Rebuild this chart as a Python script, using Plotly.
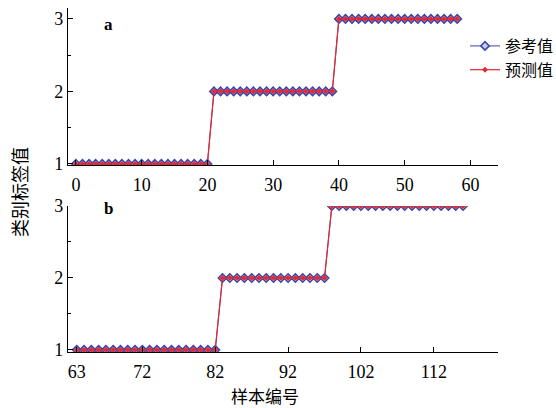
import plotly.graph_objects as go

# Panel a data (sample index and class labels)
a_x = [0, 1, 2, 3, 4, 5, 6, 7, 8, 9, 10, 11, 12, 13, 14, 15, 16, 17, 18, 19, 20,
       21, 22, 23, 24, 25, 26, 27, 28, 29, 30, 31, 32, 33, 34, 35, 36, 37, 38, 39,
       40, 41, 42, 43, 44, 45, 46, 47, 48, 49, 50, 51, 52, 53, 54, 55, 56, 57, 58]
a_ref = [1, 1, 1, 1, 1, 1, 1, 1, 1, 1, 1, 1, 1, 1, 1, 1, 1, 1, 1, 1, 1,
         2, 2, 2, 2, 2, 2, 2, 2, 2, 2, 2, 2, 2, 2, 2, 2, 2, 2, 2,
         3, 3, 3, 3, 3, 3, 3, 3, 3, 3, 3, 3, 3, 3, 3, 3, 3, 3, 3]
a_pred = [1, 1, 1, 1, 1, 1, 1, 1, 1, 1, 1, 1, 1, 1, 1, 1, 1, 1, 1, 1, 1,
          2, 2, 2, 2, 2, 2, 2, 2, 2, 2, 2, 2, 2, 2, 2, 2, 2, 2, 2,
          3, 3, 3, 3, 3, 3, 3, 3, 3, 3, 3, 3, 3, 3, 3, 3, 3, 3, 3]

# Panel b data
b_x = [63, 64, 65, 66, 67, 68, 69, 70, 71, 72, 73, 74, 75, 76, 77, 78, 79, 80, 81, 82,
       83, 84, 85, 86, 87, 88, 89, 90, 91, 92, 93, 94, 95, 96, 97,
       98, 99, 100, 101, 102, 103, 104, 105, 106, 107, 108, 109, 110, 111, 112, 113, 114, 115, 116]
b_ref = [1, 1, 1, 1, 1, 1, 1, 1, 1, 1, 1, 1, 1, 1, 1, 1, 1, 1, 1, 1,
         2, 2, 2, 2, 2, 2, 2, 2, 2, 2, 2, 2, 2, 2, 2,
         3, 3, 3, 3, 3, 3, 3, 3, 3, 3, 3, 3, 3, 3, 3, 3, 3, 3, 3]
b_pred = [1, 1, 1, 1, 1, 1, 1, 1, 1, 1, 1, 1, 1, 1, 1, 1, 1, 1, 1, 1,
          2, 2, 2, 2, 2, 2, 2, 2, 2, 2, 2, 2, 2, 2, 2,
          3, 3, 3, 3, 3, 3, 3, 3, 3, 3, 3, 3, 3, 3, 3, 3, 3, 3, 3]

a_ticks = [0, 10, 20, 30, 40, 50, 60]
b_ticks = [63, 72, 82, 92, 102, 112]
y_ticks = [1, 2, 3]

series_names = ["参考值", "预测值"]
panel_labels = ["a", "b"]

BLUE = "#3a45a8"
RED = "#e8262e"
SERIF = "Liberation Serif, Times New Roman, serif"
CJK = "Noto Sans CJK SC, sans-serif"

fig = go.Figure()

def add_panel(x, ref, pred, xa, ya, legend):
    fig.add_trace(go.Scatter(
        x=x, y=ref, mode="lines+markers", name=series_names[0],
        xaxis=xa, yaxis=ya, showlegend=legend, legendrank=1,
        line=dict(color=BLUE, width=1),
        marker=dict(symbol="diamond", size=6.5, color="#c9cdef",
                    line=dict(color=BLUE, width=1.5)),
    ))
    fig.add_trace(go.Scatter(
        x=x, y=pred, mode="lines+markers", name=series_names[1],
        xaxis=xa, yaxis=ya, showlegend=legend, legendrank=2,
        line=dict(color=RED, width=1.2),
        marker=dict(symbol="diamond", size=4.5, color=RED, line=dict(width=0)),
    ))

add_panel(a_x, a_ref, a_pred, "x", "y", True)
add_panel(b_x, b_ref, b_pred, "x2", "y2", False)

axis_common = dict(
    showline=True, linecolor="black", linewidth=1.2, mirror=False,
    showgrid=False, zeroline=False, ticks="inside", ticklen=5,
    tickcolor="black", tickwidth=1, automargin=False,
    tickfont=dict(family=SERIF, size=18, color="black"),
)

fig.update_layout(
    width=556, height=408,
    paper_bgcolor="white", plot_bgcolor="white",
    margin=dict(l=68, r=58, t=8, b=56, autoexpand=False),
    xaxis=dict(axis_common, range=[-1.2, 64.2], tickvals=a_ticks,
               anchor="y", domain=[0, 1], ticklabelstandoff=3),
    yaxis=dict(axis_common, range=[0.985, 3.15], tickvals=y_ticks,
               anchor="x", domain=[0.5436, 1.0],
               minor=dict(dtick=0.5, ticks="inside", ticklen=3, tickcolor="black")),
    xaxis2=dict(axis_common, range=[61.8, 120.8], tickvals=b_ticks,
                anchor="y2", domain=[0, 1], ticklabelstandoff=3),
    yaxis2=dict(axis_common, range=[0.97, 3.0], tickvals=y_ticks,
                anchor="x2", domain=[0, 0.4244],
                minor=dict(dtick=0.5, ticks="inside", ticklen=3, tickcolor="black")),
    legend=dict(xref="container", yref="container", x=465 / 556, y=1 - 29 / 408,
                xanchor="left", yanchor="top",
                bgcolor="rgba(0,0,0,0)", font=dict(family=CJK, size=16, color="black"),
                tracegroupgap=0, itemwidth=30),
    showlegend=True,
    annotations=[
        dict(text="<b>" + panel_labels[0] + "</b>", x=(108 - 68) / 430, y=(352 - 25) / 344,
             xref="paper", yref="paper", xanchor="center", yanchor="middle",
             showarrow=False, font=dict(family=SERIF, size=17, color="black")),
        dict(text="<b>" + panel_labels[1] + "</b>", x=(108 - 68) / 430, y=(352 - 209) / 344,
             xref="paper", yref="paper", xanchor="center", yanchor="middle",
             showarrow=False, font=dict(family=SERIF, size=17, color="black")),
        dict(text="样本编号", x=(265 - 68) / 430, y=(352 - 395) / 344,
             xref="paper", yref="paper", xanchor="center", yanchor="middle",
             showarrow=False, font=dict(family=CJK, size=17, color="black")),
        dict(text="类别标签值", x=(19 - 68) / 430, y=(352 - 192) / 344,
             xref="paper", yref="paper", xanchor="center", yanchor="middle",
             showarrow=False, textangle=-90, font=dict(family=CJK, size=18, color="black")),
    ],
)

fig.write_html("out.html", config={"displayModeBar": False},
               post_script="document.body.style.margin='0';")
